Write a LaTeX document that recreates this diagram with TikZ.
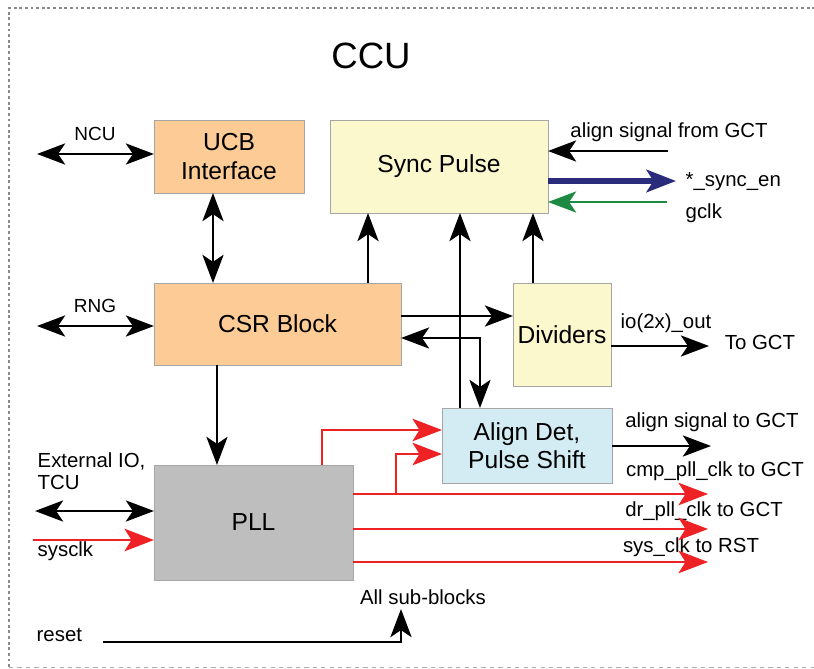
\documentclass[tikz,border=0pt]{standalone}
\usepackage{fontspec}
\setmainfont{Liberation Sans}
\usetikzlibrary{arrows.meta,calc,positioning}
\definecolor{ccuorange}{HTML}{FDCB95}
\definecolor{ccuyellow}{HTML}{FCF8CE}
\definecolor{ccublue}{HTML}{D3ECF4}
\definecolor{ccugray}{HTML}{BEBEBE}
\definecolor{ccured}{HTML}{EE2124}
\definecolor{ccunavy}{HTML}{2A2B7A}
\definecolor{ccugreen}{HTML}{1C8A43}
\definecolor{ccuframe}{HTML}{8A8A8A}
\tikzset{
  ccu box/.style={
    draw=black!35,
    line width=0.6pt,
    align=center,
    inner sep=2pt,
    outer sep=0pt,
    font=\fontsize{17.5}{20}\selectfont,
  },
  ccu label/.style={
    font=\fontsize{14.5}{16}\selectfont,
    inner sep=1pt,
  },
  ccu small/.style={
    font=\fontsize{13.5}{15}\selectfont,
    inner sep=1pt,
  },
  ccu sig/.style={-{Stealth[length=20pt,width=15pt,inset=5pt]}, line width=2pt},
  ccu bi/.style={{Stealth[length=20pt,width=15pt,inset=5pt]}-{Stealth[length=20pt,width=15pt,inset=5pt]}, line width=2pt},
  ccu clk/.style={-{Stealth[length=21pt,width=16pt,inset=5pt]}, line width=1.6pt, draw=ccured},
  ccu bus/.style={-{Stealth[length=21pt,width=16pt,inset=5pt]}, line width=3.6pt, draw=ccunavy},
  ccu gclk/.style={-{Stealth[length=20pt,width=15pt,inset=5pt]}, line width=1.6pt, draw=ccugreen},
}

\begin{document}
\begin{tikzpicture}[x=0.025cm, y=-0.025cm]

  \useasboundingbox (0,0) rectangle (814,669);

  % --- Outer CCU frame ---
  \draw[ccuframe, line width=2pt, dash pattern=on 2pt off 2pt] (9,667) -- (9,8) -- (814,8);
  \draw[ccuframe!70, line width=0.6pt, dashed] (9,667) -- (814,667);
  \node[font=\fontsize{26}{30}\selectfont] (title) at (371,56) {CCU};

  % --- Blocks ---
  \node[ccu box, fill=ccuorange, minimum width=3.75cm, minimum height=1.825cm]
    (ucb) at (229,156.5) {UCB\\Interface};
  \node[ccu box, fill=ccuyellow, minimum width=5.45cm, minimum height=2.325cm]
    (sync) at (439,166.5) {Sync Pulse};
  \node[ccu box, fill=ccuorange, minimum width=6.175cm, minimum height=2.05cm]
    (csr) at (277.5,324) {CSR Block};
  \node[ccu box, fill=ccuyellow, minimum width=2.45cm, minimum height=2.575cm]
    (div) at (562,334.5) {Dividers};
  \node[ccu box, fill=ccublue, minimum width=4.25cm, minimum height=1.875cm]
    (align) at (527,445.5) {Align Det,\\Pulse Shift};
  \node[ccu box, fill=ccugray, minimum width=4.975cm, minimum height=2.875cm]
    (pll) at (253.5,522.5) {PLL};

  % --- Free ends ---
  \coordinate (ncu)      at (37,154);
  \coordinate (rng)      at (37,326);
  \coordinate (ext)      at (35,511);
  \coordinate (sysin)    at (33,540);
  \coordinate (resetin)  at (103,642);
  \coordinate (subin)    at (401,609);
  \coordinate (gctalign) at (668,151);
  \coordinate (syncen)   at (676,181);
  \coordinate (gclkin)   at (667,202);
  \coordinate (divout)   at (709,346);
  \coordinate (alignout) at (711,446);
  \coordinate (cmpout)   at (708,494);
  \coordinate (drout)    at (708,529);
  \coordinate (sysout)   at (708,562);

  % --- Labels ---
  \node[ccu small] (ncul) at (95,134) {NCU};
  \node[ccu small] (rngl) at (95,306) {RNG};
  \node[ccu label, anchor=west, align=left] (extl) at (36,471) {External IO,\\TCU};
  \node[ccu label, anchor=west] (sysclkl) at (36,551) {sysclk};
  \node[ccu label, anchor=west] (resetl) at (35,635) {reset};
  \node[ccu label] (allsubl) at (423,597) {All sub-blocks};
  \node[ccu label] (gctalignl) at (669,132) {align signal from GCT};
  \node[ccu label, anchor=west] (syncenl) at (684,182) {*\_sync\_en};
  \node[ccu label, anchor=west] (gclkl) at (684,213) {gclk};
  \node[ccu label] (io2xl) at (666,323) {io(2x)\_out};
  \node[ccu label] (togctl) at (760,342) {To GCT};
  \node[ccu label] (alignl) at (712,422) {align signal to GCT};
  \node[ccu label] (cmpl) at (715,471) {cmp\_pll\_clk to GCT};
  \node[ccu label] (drl) at (704,511) {dr\_pll\_clk to GCT};
  \node[ccu label] (sysl) at (691,547) {sys\_clk to RST};

  % --- Control paths ---
  \draw[ccu bi] (ncu) -- (ucb.west |- ncu);
  \draw[ccu bi] (rng) -- (csr.west |- rng);
  \draw[ccu bi] ([xshift=-0.4cm]ucb.south) -- ([xshift=-0.4cm]ucb.south |- csr.north);
  \draw[ccu sig] ([xshift=2.2625cm]csr.north) -- ([xshift=2.2625cm]csr.north |- sync.south);
  \draw[ccu sig] ([xshift=-1.675cm]align.north) -- ([xshift=-1.675cm]align.north |- sync.south);
  \draw[ccu sig] ([xshift=-0.725cm]div.north) -- ([xshift=-0.725cm]div.north |- sync.south);
  \draw[ccu sig] ([yshift=0.2cm]csr.east) coordinate (c1) -- (c1 -| div.west);
  \draw[ccu bi] ([yshift=-0.35cm]csr.east) -| ([xshift=-1.175cm]align.north);
  \draw[ccu sig] ([xshift=-1.5125cm]csr.south) -- ([xshift=-1.5125cm]csr.south |- pll.north);
  \draw[ccu sig] (div.east |- divout) -- (divout);
  \draw[ccu sig] (align.east |- alignout) -- (alignout);
  \draw[ccu bi] (ext) -- (pll.west |- ext);
  \draw[ccu sig] (resetin) -| (subin);

  % --- Sync pulse interface ---
  \draw[ccu sig] (gctalign) -- (sync.east |- gctalign);
  \draw[ccu bus] (sync.east |- syncen) -- (syncen);
  \draw[ccu gclk] (gclkin) -- (sync.east |- gclkin);

  % --- Clocks out of the PLL ---
  \draw[ccu clk] (sysin) -- (pll.west |- sysin);
  \draw[ccu clk] (pll.east |- cmpout) -- coordinate[pos=0.121] (br) (cmpout);
  \draw[ccu clk] (pll.east |- drout) -- (drout);
  \draw[ccu clk] (pll.east |- sysout) -- (sysout);
  \draw[ccu clk] ([xshift=1.7125cm]pll.north) |- ([yshift=0.3875cm]align.west);
  \draw[ccu clk] (br) |- ([yshift=-0.2125cm]align.west);

\end{tikzpicture}
\end{document}
